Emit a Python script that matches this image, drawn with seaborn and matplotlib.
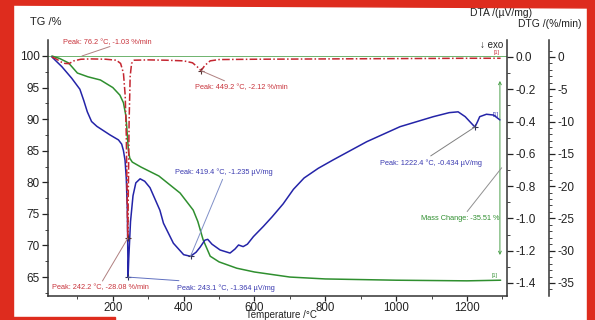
import numpy as np
import pandas as pd
import matplotlib.pyplot as plt
import seaborn as sns
from matplotlib.patches import Rectangle, Polygon

# TG curve (mass %)
tg_temp = [28, 50, 75, 100, 130, 165, 200, 220, 230, 237, 241, 244, 248, 255, 280, 330,
           390, 427, 440, 455, 475, 500, 550, 600, 700, 800, 1000, 1200, 1295]
tg_mass = [100, 99.6, 98.9, 97.3, 96.7, 96.2, 95.0, 93.8, 92.6, 90.5, 87.5, 85.0, 83.8, 83.2,
           82.4, 81.0, 78.3, 75.6, 73.8, 70.9, 68.3, 67.4, 66.4, 65.8, 65.0, 64.7, 64.5, 64.4, 64.5]

# DTA curve (uV/mg)
dta_temp = [28, 56, 84, 107, 118, 128, 140, 155, 192, 216, 225, 230, 234.5, 238, 241, 243.1,
            245, 250, 257, 265, 277, 290, 305, 333, 343, 371, 400, 419.4, 435, 446, 460, 468,
            480, 503, 531, 545, 555, 568, 580, 597, 625, 650, 681, 710, 740, 780, 822, 917,
            1011, 1105, 1150, 1175, 1195, 1212, 1222.4, 1230, 1236, 1255, 1275, 1293]
dta_val = [0.0, -0.06, -0.132, -0.2, -0.27, -0.34, -0.4, -0.43, -0.483, -0.514, -0.54, -0.58,
           -0.64, -0.75, -0.95, -1.364, -1.25, -1.02, -0.86, -0.78, -0.755, -0.77, -0.81, -0.95,
           -1.03, -1.154, -1.225, -1.235, -1.21, -1.18, -1.135, -1.13, -1.16, -1.196, -1.215,
           -1.19, -1.165, -1.175, -1.16, -1.113, -1.05, -0.99, -0.91, -0.82, -0.75, -0.69,
           -0.638, -0.525, -0.432, -0.37, -0.345, -0.34, -0.37, -0.41, -0.434, -0.40, -0.37,
           -0.355, -0.36, -0.39]

# DTG curve (%/min)
dtg_temp = [28, 40, 55, 65, 76.2, 90, 110, 140, 180, 210, 222, 230, 235, 238, 240, 242.2, 244,
            246, 249, 253, 260, 300, 350, 400, 425, 438, 449.2, 460, 475, 500, 600, 800, 1000,
            1200, 1295]
dtg_val = [0, -0.3, -0.8, -1.0, -1.03, -0.6, -0.35, -0.3, -0.35, -0.5, -1.0, -2.5, -6, -12, -20,
           -28.08, -20, -10, -3, -1.0, -0.5, -0.45, -0.5, -0.6, -0.9, -1.5, -2.12, -1.3, -0.6,
           -0.4, -0.35, -0.3, -0.25, -0.2, -0.2]

# peaks
dtg_peak_t = [76.2, 449.2, 242.2]
dtg_peak_v = [-1.03, -2.12, -28.08]
dta_peak_t = [419.4, 243.1, 1222.4]
dta_peak_v = [-1.235, -1.364, -0.434]
mass_change = -35.51

x_ticks = [200, 400, 600, 800, 1000, 1200]
tg_ticks = [65, 70, 75, 80, 85, 90, 95, 100]
dta_ticks = [-1.4, -1.2, -1.0, -0.8, -0.6, -0.4, -0.2, 0.0]
dtg_ticks = [-35, -30, -25, -20, -15, -10, -5, 0]

c_tg = '#2f8f2f'
c_dta = '#2424a8'
c_dtg = '#c42630'
c_red_txt = '#c8343c'
c_blue_txt = '#3a3ab0'

sns.set_style("ticks")
plt.rcParams['font.family'] = ['Liberation Sans', 'DejaVu Sans']
plt.rcParams['axes.unicode_minus'] = False

fig = plt.figure(figsize=(5.95, 3.2), dpi=100)
ax = fig.add_axes([48 / 595, 1 - 296 / 320, (507 - 48) / 595, (296 - 40) / 320])
ax2 = ax.twinx()
ax3 = ax.twinx()

# TG
sns.lineplot(x=tg_temp, y=tg_mass, ax=ax, color=c_tg, lw=1.1)
ax.axhline(100, color='#6db36d', lw=0.7, zorder=1)
ax.set_ylim(62, 102.53)
ax.set_xticks(x_ticks)
ax.set_xticks(np.arange(100, 1301, 200), minor=True)
ax.set_yticks(tg_ticks)
ax.set_yticks(np.arange(62.5, 102, 2.5), minor=True)
ax.spines['top'].set_visible(False)
ax.spines['right'].set_visible(False)

# DTA
sns.lineplot(x=dta_temp, y=dta_val, ax=ax2, color=c_dta, lw=1.1)
ax2.set_ylim(-1.481, 0.105)
ax2.set_yticks(dta_ticks)
ax2.set_yticks(np.round(np.arange(-1.4, 0.05, 0.1), 2), minor=True)
ax2.set_yticklabels([f"{v:.1f}" for v in dta_ticks])
for s in ['top', 'left', 'bottom']:
    ax2.spines[s].set_visible(False)

# DTG
sns.lineplot(x=dtg_temp, y=dtg_val, ax=ax3, color=c_dtg, lw=1.1,
             linestyle=(0, (5, 1.5, 1, 1.5)))
ax3.set_ylim(-37.02, 2.63)
ax3.set_yticks(dtg_ticks)
ax3.set_yticks(np.arange(-36, 2, 1), minor=True)
ax3.spines['right'].set_position(('outward', 30))
for s in ['top', 'left', 'bottom']:
    ax3.spines[s].set_visible(False)

for a in (ax, ax2, ax3):
    a.set_xlabel('')
    a.set_ylabel('')
    a.tick_params(which='major', direction='out', length=4, width=0.9, labelsize=8.5,
                  colors='#222222', pad=2)
    a.tick_params(which='minor', direction='out', length=2, width=0.7, colors='#444444')
    for s in a.spines.values():
        s.set_color('#333333')
        s.set_linewidth(1.1)
ax.tick_params(axis='x', which='major', pad=0.5, length=3.5, labelsize=8.3)
ax.set_xlim(17, 1313)

# peak markers
ax3.plot(dtg_peak_t[1:], dtg_peak_v[1:], '+', color='#553333', ms=5, mew=0.8)
ax2.plot(dta_peak_t, dta_peak_v, '+', color='#333355', ms=5, mew=0.8)

fs = 5.3
# DTG peak annotations
ax.annotate(f"Peak: {dtg_peak_t[0]} °C, {dtg_peak_v[0]} %/min", xy=(113, 100), xytext=(60, 102.2),
            color=c_red_txt, fontsize=fs, va='center', ha='left')
ax.plot([192, 113], [101.5, 100], color='#b08080', lw=0.7)
ax3.annotate(f"Peak: {dtg_peak_t[1]} °C, {dtg_peak_v[1]:.2f} %/min", xy=(dtg_peak_t[1], dtg_peak_v[1]),
             xytext=(432, 95.0), textcoords=ax.transData,
             color=c_red_txt, fontsize=fs, va='center', ha='left',
             arrowprops=dict(arrowstyle='-', color='#b08080', lw=0.7, shrinkA=0, shrinkB=0,
                             relpos=(0.4, 1)))
ax3.annotate(f"Peak: {dtg_peak_t[2]} °C, {dtg_peak_v[2]:.2f} %/min", xy=(dtg_peak_t[2], dtg_peak_v[2]),
             xytext=(28.5, 63.3), textcoords=ax.transData,
             color=c_red_txt, fontsize=fs, va='center', ha='left',
             arrowprops=dict(arrowstyle='-', color='#b08080', lw=0.7, shrinkA=0, shrinkB=0,
                             relpos=(0.5, 1)))

# DTA peak annotations
ax2.annotate(f"Peak: {dta_peak_t[0]} °C, {dta_peak_v[0]:.3f} µV/mg", xy=(dta_peak_t[0], dta_peak_v[0]),
             xytext=(376, 81.6), textcoords=ax.transData,
             color=c_blue_txt, fontsize=fs, va='center', ha='left',
             arrowprops=dict(arrowstyle='-', color='#8090c8', lw=0.7, shrinkA=0, shrinkB=0,
                             relpos=(0.5, 0)))
ax2.annotate(f"Peak: {dta_peak_t[1]} °C, {dta_peak_v[1]:.3f} µV/mg", xy=(dta_peak_t[1], dta_peak_v[1]),
             xytext=(381, 63.3), textcoords=ax.transData,
             color=c_blue_txt, fontsize=fs, va='center', ha='left',
             arrowprops=dict(arrowstyle='-', color='#6070c0', lw=0.7, shrinkA=0, shrinkB=0,
                             relpos=(0.5, 1)))
ax2.annotate(f"Peak: {dta_peak_t[2]} °C, {dta_peak_v[2]:.3f} µV/mg", xy=(dta_peak_t[2], dta_peak_v[2]),
             xytext=(954, 83.05), textcoords=ax.transData,
             color=c_blue_txt, fontsize=fs, va='center', ha='left',
             arrowprops=dict(arrowstyle='-', color='#808080', lw=0.7, shrinkA=0, shrinkB=0,
                             relpos=(0.45, 1)))

# mass change
ax.annotate('', xy=(1293, 100 + mass_change * 0.1 + 0.05), xytext=(1293, 100 + mass_change * 0.9),
            arrowprops=dict(arrowstyle='<->', color='#4aa04a', lw=0.7, mutation_scale=5))
ax.annotate(f"Mass Change: {mass_change} %", xy=(1298, 82.3), xytext=(1293, 74.3),
            color=c_tg, fontsize=fs, va='center', ha='right',
            arrowprops=dict(arrowstyle='-', color='#909090', lw=0.7, shrinkA=0, shrinkB=0,
                            relpos=(0.55, 1)))

# curve tags
ax.text(1284, 100.6, '[1]', color=c_dtg, fontsize=3.8, ha='center', va='center')
ax.text(1280, 90.7, '[1]', color=c_dta, fontsize=3.8, ha='center', va='center')
ax.text(1277, 65.2, '[1]', color=c_tg, fontsize=3.8, ha='center', va='center')

# axis titles
fig.text(30 / 595, 1 - 22 / 320, 'TG /%', fontsize=8, ha='left', va='center', color='#222222')
fig.text(470 / 595, 1 - 13 / 320, 'DTA /(µV/mg)', fontsize=7.5, ha='left', va='center', color='#222222')
fig.text(518 / 595, 1 - 24 / 320, 'DTG /(%/min)', fontsize=7.5, ha='left', va='center', color='#222222')
fig.text(503 / 595, 1 - 45 / 320, '↓ exo', fontsize=7, ha='right', va='center', color='#222222')
fig.text(281 / 595, 0.5 / 320, 'Temperature /°C', fontsize=7, ha='center', va='bottom', color='#222222')

# red frame of the screenshot
red = '#de2c1e'
fig.patches.append(Rectangle((0, 0), 13 / 595, 1, transform=fig.transFigure, color=red, zorder=5))
fig.patches.append(Rectangle((587 / 595, 0), 8 / 595, 1, transform=fig.transFigure, color=red, zorder=5))
fig.patches.append(Polygon([(0, 1), (1, 1), (1, 1 - 8 / 320), (0, 1 - 5 / 320)],
                           transform=fig.transFigure, color=red, zorder=5))
fig.patches.append(Rectangle((0, 0), 115 / 595, 3 / 320, transform=fig.transFigure, color=red, zorder=5))

fig.savefig('out.png', dpi=100)
